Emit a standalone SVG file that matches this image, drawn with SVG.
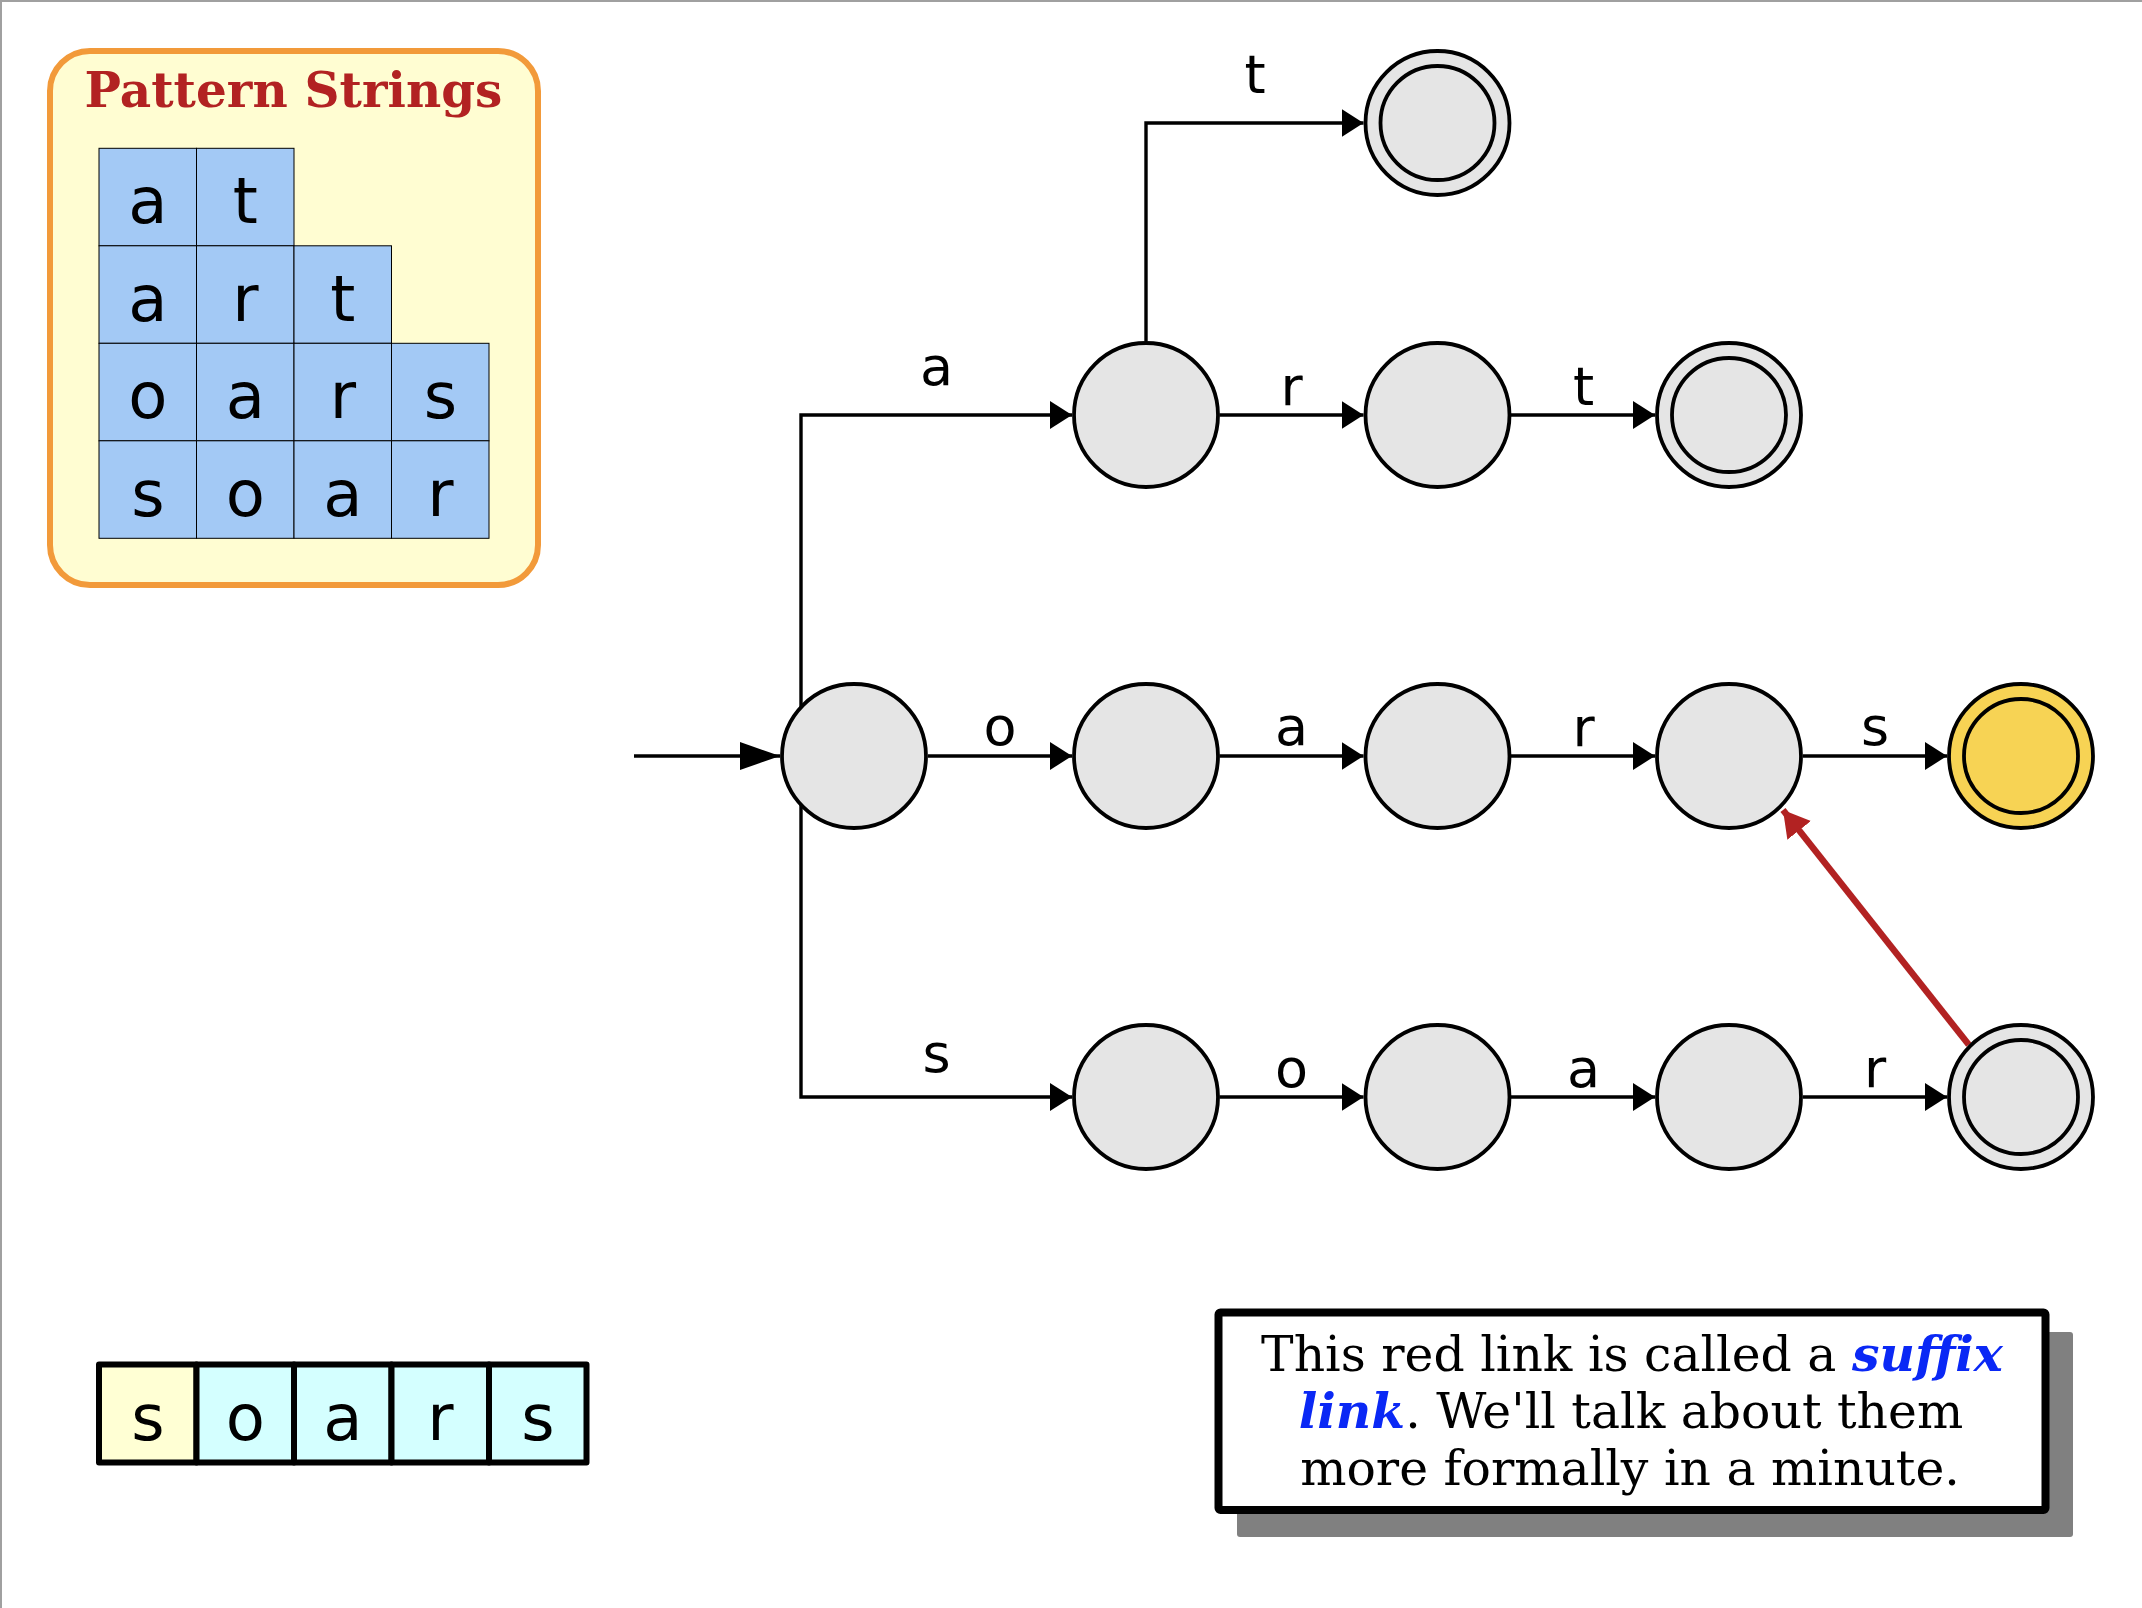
<svg xmlns="http://www.w3.org/2000/svg" width="2142" height="1608" viewBox="0 0 2142 1608">
<style>
.node{fill:#e5e5e5;stroke:#000;stroke-width:3.8}
.acc{fill:#f7d354}
.edge{fill:none;stroke:#000;stroke-width:3.4;stroke-linejoin:miter}
.lbl{font-family:"DejaVu Sans",sans-serif;font-size:54px;text-anchor:middle;fill:#000}
.cell{fill:#a3c9f5;stroke:#000;stroke-width:1}
.big{font-family:"DejaVu Sans",sans-serif;font-size:64px;text-anchor:middle;fill:#000}
.scell{stroke:#000;stroke-width:6;stroke-linejoin:round}
.note{font-family:"DejaVu Serif",serif;font-size:48.8px;text-anchor:middle;fill:#000}
.em{font-weight:bold;font-style:italic;fill:#0a28f5}
</style>
<defs>
<marker id="arr" markerUnits="userSpaceOnUse" markerWidth="24" markerHeight="30" refX="22" refY="14" orient="auto"><path d="M0,0 L22,14 L0,28 z" fill="#000"/></marker>
<marker id="arrBig" markerUnits="userSpaceOnUse" markerWidth="42" markerHeight="30" refX="40" refY="14" orient="auto"><path d="M0,0 L40,14 L0,28 z" fill="#000"/></marker>
<marker id="arrRed" markerUnits="userSpaceOnUse" markerWidth="28" markerHeight="32" refX="26" refY="15" orient="auto"><path d="M0,0 L26,15 L0,30 z" fill="#b22222"/></marker>
</defs>
<rect x="0" y="0" width="2142" height="1608" fill="#fff"/>
<path d="M1,0 V1608 M0,1 H2142" stroke="#a0a0a0" stroke-width="2" fill="none"/>

<g id="pattern-strings">
<rect x="50" y="51" width="488" height="534" rx="40" fill="#fffdd2" stroke="#f29a3a" stroke-width="6"/>
<text x="293.5" y="107" font-family="DejaVu Serif, serif" font-weight="bold" font-size="48.5" fill="#b22222" text-anchor="middle">Pattern Strings</text>
<rect class="cell" x="99" y="148.3" width="97.5" height="97.5"/><rect class="cell" x="196.5" y="148.3" width="97.5" height="97.5"/>
<rect class="cell" x="99" y="245.8" width="97.5" height="97.5"/><rect class="cell" x="196.5" y="245.8" width="97.5" height="97.5"/><rect class="cell" x="294" y="245.8" width="97.5" height="97.5"/>
<rect class="cell" x="99" y="343.3" width="97.5" height="97.5"/><rect class="cell" x="196.5" y="343.3" width="97.5" height="97.5"/><rect class="cell" x="294" y="343.3" width="97.5" height="97.5"/><rect class="cell" x="391.5" y="343.3" width="97.5" height="97.5"/>
<rect class="cell" x="99" y="440.8" width="97.5" height="97.5"/><rect class="cell" x="196.5" y="440.8" width="97.5" height="97.5"/><rect class="cell" x="294" y="440.8" width="97.5" height="97.5"/><rect class="cell" x="391.5" y="440.8" width="97.5" height="97.5"/>
<text class="big" x="147.8" y="223.3">a</text><text class="big" x="245.3" y="223.3">t</text>
<text class="big" x="147.8" y="320.8">a</text><text class="big" x="245.3" y="320.8">r</text><text class="big" x="342.8" y="320.8">t</text>
<text class="big" x="147.8" y="418.3">o</text><text class="big" x="245.3" y="418.3">a</text><text class="big" x="342.8" y="418.3">r</text><text class="big" x="440.3" y="418.3">s</text>
<text class="big" x="147.8" y="515.8">s</text><text class="big" x="245.3" y="515.8">o</text><text class="big" x="342.8" y="515.8">a</text><text class="big" x="440.3" y="515.8">r</text>
</g>

<g id="connectors">
<path class="edge" d="M634,756 H780" marker-end="url(#arrBig)"/>
<path class="edge" d="M801,756 V415 H1072" marker-end="url(#arr)"/>
<path class="edge" d="M801,756 V1097 H1072" marker-end="url(#arr)"/>
<path class="edge" d="M928,756 H1072" marker-end="url(#arr)"/>
<path class="edge" d="M1219.5,756 H1363.5" marker-end="url(#arr)"/>
<path class="edge" d="M1511,756 H1655" marker-end="url(#arr)"/>
<path class="edge" d="M1803,756 H1947" marker-end="url(#arr)"/>
<path class="edge" d="M1146,341 V123 H1363.5" marker-end="url(#arr)"/>
<path class="edge" d="M1219.5,415 H1363.5" marker-end="url(#arr)"/>
<path class="edge" d="M1511,415 H1655" marker-end="url(#arr)"/>
<path class="edge" d="M1219.5,1097 H1363.5" marker-end="url(#arr)"/>
<path class="edge" d="M1511,1097 H1655" marker-end="url(#arr)"/>
<path class="edge" d="M1803,1097 H1947" marker-end="url(#arr)"/>
<path d="M1968.8,1044.8 L1783,810" stroke="#b22222" stroke-width="6.5" fill="none" marker-end="url(#arrRed)"/>
<text class="lbl" x="1255" y="93">t</text>
<text class="lbl" x="936.5" y="385">a</text>
<text class="lbl" x="1291.5" y="405">r</text>
<text class="lbl" x="1583.5" y="405">t</text>
<text class="lbl" x="1000" y="745">o</text>
<text class="lbl" x="1291.5" y="745">a</text>
<text class="lbl" x="1583.5" y="745.5">r</text>
<text class="lbl" x="1875" y="745">s</text>
<text class="lbl" x="936.5" y="1072">s</text>
<text class="lbl" x="1291.5" y="1086.5">o</text>
<text class="lbl" x="1583.5" y="1086.5">a</text>
<text class="lbl" x="1875" y="1086.5">r</text>
</g>

<g id="n-start"><circle class="node" cx="854" cy="756" r="72"/></g>
<g id="n-a"><circle class="node" cx="1146" cy="415" r="72"/></g>
<g id="n-at"><circle class="node" cx="1437.5" cy="123" r="72"/><circle class="node" cx="1437.5" cy="123" r="57"/></g>
<g id="n-ar"><circle class="node" cx="1437.5" cy="415" r="72"/></g>
<g id="n-art"><circle class="node" cx="1729" cy="415" r="72"/><circle class="node" cx="1729" cy="415" r="57"/></g>
<g id="n-o"><circle class="node" cx="1146" cy="756" r="72"/></g>
<g id="n-oa"><circle class="node" cx="1437.5" cy="756" r="72"/></g>
<g id="n-oar"><circle class="node" cx="1729" cy="756" r="72"/></g>
<g id="n-oars"><circle class="node acc" cx="2021" cy="756" r="72"/><circle class="node acc" cx="2021" cy="756" r="57"/></g>
<g id="n-s"><circle class="node" cx="1146" cy="1097" r="72"/></g>
<g id="n-so"><circle class="node" cx="1437.5" cy="1097" r="72"/></g>
<g id="n-soa"><circle class="node" cx="1729" cy="1097" r="72"/></g>
<g id="n-soar"><circle class="node" cx="2021" cy="1097" r="72"/><circle class="node" cx="2021" cy="1097" r="57"/></g>

<g id="input-string">
<rect class="scell" x="99" y="1364.5" width="97.5" height="98" fill="#ffffd4"/>
<rect class="scell" x="196.5" y="1364.5" width="97.5" height="98" fill="#d4ffff"/>
<rect class="scell" x="294" y="1364.5" width="97.5" height="98" fill="#d4ffff"/>
<rect class="scell" x="391.5" y="1364.5" width="97.5" height="98" fill="#d4ffff"/>
<rect class="scell" x="489" y="1364.5" width="97.5" height="98" fill="#d4ffff"/>
<text class="big" x="147.8" y="1439.5">s</text>
<text class="big" x="245.3" y="1439.5">o</text>
<text class="big" x="342.8" y="1439.5">a</text>
<text class="big" x="440.3" y="1439.5">r</text>
<text class="big" x="537.8" y="1439.5">s</text>
</g>

<g id="note">
<rect x="1237" y="1332" width="836" height="205" rx="3" fill="#808080"/>
<rect x="1218.5" y="1312.5" width="827" height="197.5" rx="2" fill="#fff" stroke="#000" stroke-width="8"/>
<text class="note" x="1632" y="1371">This red link is called a <tspan class="em">suffix</tspan></text>
<text class="note" x="1631" y="1428"><tspan class="em">link</tspan>. We'll talk about them</text>
<text class="note" x="1630" y="1485">more formally in a minute.</text>
</g>
</svg>
